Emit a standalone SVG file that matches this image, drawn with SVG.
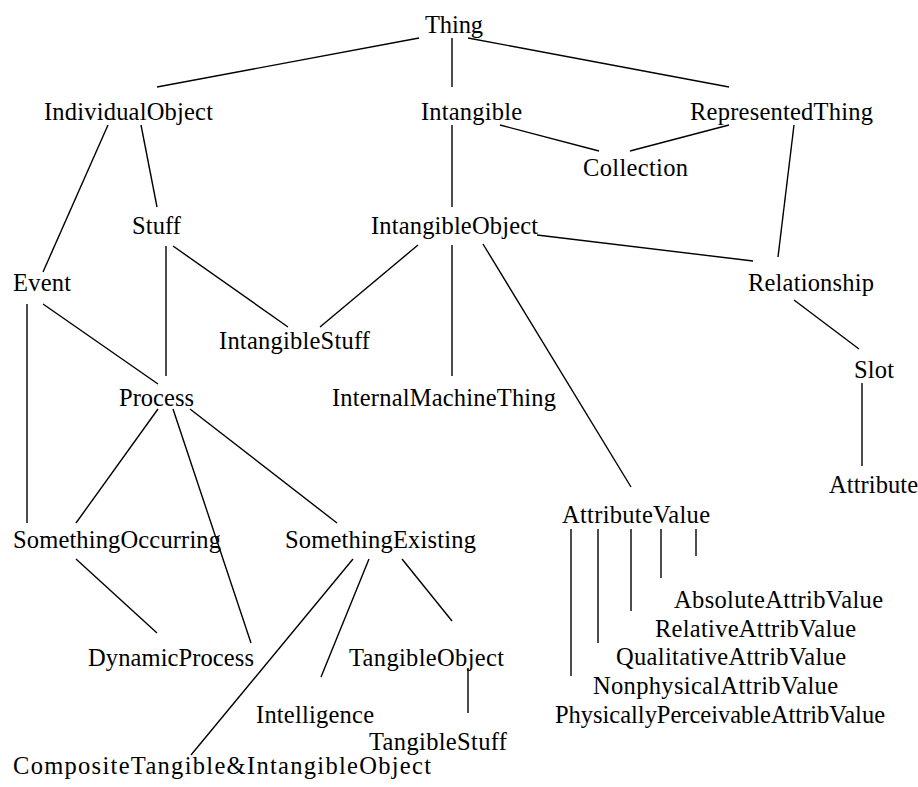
<svg xmlns="http://www.w3.org/2000/svg" width="918" height="787" viewBox="0 0 918 787" font-family="'Liberation Serif', 'Times New Roman', Times, serif">
<style>
text{font-family:'Liberation Serif','Times New Roman',Times,serif;font-size:24.5px;fill:#000}
.e line{stroke:#000;stroke-width:1.4;fill:none}
</style>
<rect width="918" height="787" fill="#fff"/>
<g class="e" id="connectors">
<line x1="419" y1="38" x2="157" y2="87"/>
<line x1="452" y1="38" x2="452" y2="87"/>
<line x1="468" y1="38" x2="729" y2="87"/>
<line x1="108" y1="125" x2="43" y2="272"/>
<line x1="141" y1="125" x2="157" y2="207"/>
<line x1="452" y1="125" x2="452" y2="207"/>
<line x1="500" y1="125" x2="599" y2="151"/>
<line x1="729" y1="125" x2="630" y2="151"/>
<line x1="794" y1="125" x2="778" y2="257"/>
<line x1="166" y1="246" x2="166" y2="376"/>
<line x1="173" y1="246" x2="288" y2="327"/>
<line x1="418" y1="245" x2="320" y2="327"/>
<line x1="452" y1="245" x2="452" y2="376"/>
<line x1="537" y1="235" x2="753" y2="261"/>
<line x1="483" y1="244" x2="631" y2="487"/>
<line x1="27" y1="304" x2="27" y2="523"/>
<line x1="43" y1="304" x2="158" y2="384"/>
<line x1="794" y1="300" x2="859" y2="349"/>
<line x1="862" y1="383" x2="862" y2="466"/>
<line x1="158" y1="409" x2="76" y2="523"/>
<line x1="173" y1="409" x2="251" y2="643"/>
<line x1="190" y1="409" x2="337" y2="523"/>
<line x1="76" y1="559" x2="157" y2="633"/>
<line x1="353" y1="559" x2="191" y2="755"/>
<line x1="369" y1="559" x2="321" y2="677"/>
<line x1="402" y1="559" x2="452" y2="621"/>
<line x1="468" y1="668" x2="468" y2="713"/>
<line x1="571" y1="529" x2="571" y2="676"/>
<line x1="598" y1="529" x2="598" y2="643"/>
<line x1="631" y1="529" x2="631" y2="611"/>
<line x1="661" y1="529" x2="661" y2="578"/>
<line x1="696" y1="529" x2="696" y2="556"/>
</g>
<g id="n-thing"><text x="425" y="33" textLength="58" lengthAdjust="spacing">Thing</text></g>
<g id="n-individualobject"><text x="44" y="120" textLength="169" lengthAdjust="spacing">IndividualObject</text></g>
<g id="n-intangible"><text x="421" y="120" textLength="101" lengthAdjust="spacing">Intangible</text></g>
<g id="n-representedthing"><text x="690" y="120" textLength="183" lengthAdjust="spacing">RepresentedThing</text></g>
<g id="n-collection"><text x="583" y="176" textLength="105" lengthAdjust="spacing">Collection</text></g>
<g id="n-stuff"><text x="132" y="234" textLength="49" lengthAdjust="spacing">Stuff</text></g>
<g id="n-intangibleobject"><text x="371" y="234" textLength="167" lengthAdjust="spacing">IntangibleObject</text></g>
<g id="n-event"><text x="13" y="291" textLength="58" lengthAdjust="spacing">Event</text></g>
<g id="n-relationship"><text x="748" y="291" textLength="126" lengthAdjust="spacing">Relationship</text></g>
<g id="n-intangiblestuff"><text x="219" y="349" textLength="151" lengthAdjust="spacing">IntangibleStuff</text></g>
<g id="n-slot"><text x="854" y="378" textLength="40" lengthAdjust="spacing">Slot</text></g>
<g id="n-process"><text x="119" y="406" textLength="75" lengthAdjust="spacing">Process</text></g>
<g id="n-internalmachinething"><text x="332" y="406" textLength="224" lengthAdjust="spacing">InternalMachineThing</text></g>
<g id="n-attribute"><text x="829" y="493" textLength="89" lengthAdjust="spacing">Attribute</text></g>
<g id="n-attributevalue"><text x="562" y="523" textLength="148" lengthAdjust="spacing">AttributeValue</text></g>
<g id="n-somethingoccurring"><text x="13" y="548" textLength="208" lengthAdjust="spacing">SomethingOccurring</text></g>
<g id="n-somethingexisting"><text x="285" y="548" textLength="191" lengthAdjust="spacing">SomethingExisting</text></g>
<g id="n-absoluteattribvalue"><text x="674" y="608" textLength="209" lengthAdjust="spacing">AbsoluteAttribValue</text></g>
<g id="n-relativeattribvalue"><text x="655" y="637" textLength="201" lengthAdjust="spacing">RelativeAttribValue</text></g>
<g id="n-dynamicprocess"><text x="88" y="666" textLength="166" lengthAdjust="spacing">DynamicProcess</text></g>
<g id="n-tangibleobject"><text x="349" y="666" textLength="155" lengthAdjust="spacing">TangibleObject</text></g>
<g id="n-qualitativeattribvalue"><text x="616" y="665" textLength="230" lengthAdjust="spacing">QualitativeAttribValue</text></g>
<g id="n-nonphysicalattribvalue"><text x="593" y="694" textLength="245" lengthAdjust="spacing">NonphysicalAttribValue</text></g>
<g id="n-intelligence"><text x="256" y="723" textLength="118" lengthAdjust="spacing">Intelligence</text></g>
<g id="n-physicallyperceivableattribvalue"><text x="555" y="723" textLength="330" lengthAdjust="spacing">PhysicallyPerceivableAttribValue</text></g>
<g id="n-tangiblestuff"><text x="369" y="750" textLength="138" lengthAdjust="spacing">TangibleStuff</text></g>
<g id="n-compositetangibleintangibleobject"><text x="13" y="774" textLength="418" lengthAdjust="spacing">CompositeTangible&amp;IntangibleObject</text></g>
</svg>
